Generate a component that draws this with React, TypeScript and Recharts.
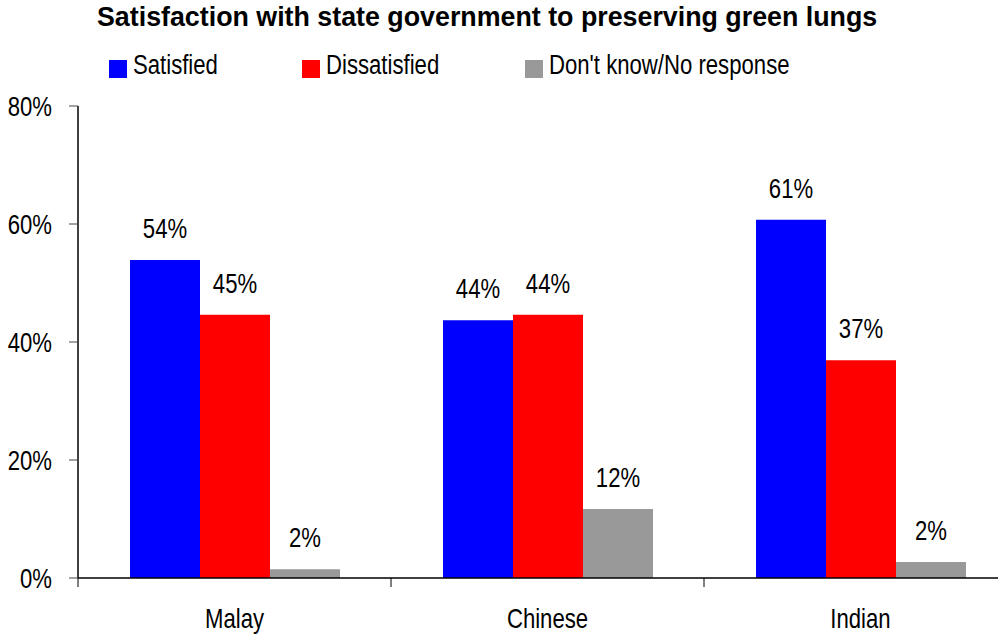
import React from "react";
import { BarChart, Bar, XAxis, YAxis, LabelList, Legend } from "recharts";

const categories = ["Malay", "Chinese", "Indian"];
const satisfied = [53.9, 43.7, 60.7];
const dissatisfied = [44.6, 44.6, 36.9];
const dontKnow = [1.5, 11.7, 2.7];
const satisfiedLabels = ["54%", "44%", "61%"];
const dissatisfiedLabels = ["45%", "44%", "37%"];
const dontKnowLabels = ["2%", "12%", "2%"];
const yTicks = [0, 20, 40, 60, 80];
const seriesNames = ["Satisfied", "Dissatisfied", "Don't know/No response"];
const seriesColors = ["#0000FF", "#FF0000", "#999999"];

const data = categories.map((c, i) => ({
  name: c,
  satisfied: satisfied[i],
  dissatisfied: dissatisfied[i],
  dontKnow: dontKnow[i],
  satisfiedLabel: satisfiedLabels[i],
  dissatisfiedLabel: dissatisfiedLabels[i],
  dontKnowLabel: dontKnowLabels[i],
}));

const FONT = "'Liberation Sans', Arial, sans-serif";
const NARROW = 0.82;
const FS = 27;
const CHART_W = 1030;
const CHART_H = 636;
const MARGIN = { top: 106, right: 13, bottom: 0, left: 0 };
const YAXIS_W = 78;
const XAXIS_H = 58;
const PLOT_W = CHART_W - MARGIN.left - MARGIN.right - YAXIS_W;
const HALF_BAND = PLOT_W / categories.length / 2;

const NarrowText = ({ x, y, anchor, dy, children }: any) => (
  <g transform={`translate(${x},${y}) scale(${NARROW},1)`}>
    <text x={0} y={0} dy={dy || 0} textAnchor={anchor} fontFamily={FONT} fontSize={FS} fill="#000">
      {children}
    </text>
  </g>
);

const XTick = (props: any) => {
  const { x, y, payload, index } = props;
  return (
    <g>
      <line x1={x - HALF_BAND} x2={x - HALF_BAND} y1={y} y2={y + 9} stroke="#000" strokeWidth={1} />
      {index === categories.length - 1 && (
        <line x1={x + HALF_BAND} x2={x + HALF_BAND} y1={y} y2={y + 9} stroke="#000" strokeWidth={1} />
      )}
      <NarrowText x={x} y={y + 50} anchor="middle">
        {payload.value}
      </NarrowText>
    </g>
  );
};

const YTick = (props: any) => {
  const { x, y, payload } = props;
  return (
    <NarrowText x={x} y={y} anchor="end" dy="0.36em">
      {`${payload.value}%`}
    </NarrowText>
  );
};

const BarLabel = (props: any) => {
  const { x, y, width, value } = props;
  return (
    <NarrowText x={Number(x) + Number(width) / 2} y={Number(y) - 22} anchor="middle">
      {value}
    </NarrowText>
  );
};

const legendLefts = [109, 302, 525];

const LegendContent = () => (
  <div style={{ position: "relative", width: 998, height: 0 }}>
    {seriesNames.map((n, i) => (
      <div key={n} style={{ position: "absolute", left: legendLefts[i], top: 0 }}>
        <div
          style={{
            position: "absolute",
            left: 0,
            top: 60,
            width: 18,
            height: 18,
            background: seriesColors[i],
          }}
        />
        <div
          style={{
            position: "absolute",
            left: 24,
            top: 52,
            whiteSpace: "nowrap",
            fontFamily: FONT,
            fontSize: FS,
            lineHeight: `${FS}px`,
            color: "#000",
            transform: `scaleX(${NARROW})`,
            transformOrigin: "0 0",
          }}
        >
          {n}
        </div>
      </div>
    ))}
  </div>
);

export default function App() {
  return (
    <div
      style={{
        position: "absolute",
        left: 0,
        top: 0,
        width: 998,
        height: 636,
        overflow: "hidden",
        background: "#fff",
      }}
    >
      <div
        style={{
          position: "absolute",
          left: 97,
          top: 4,
          whiteSpace: "nowrap",
          fontFamily: FONT,
          fontWeight: "bold",
          fontSize: 26.8,
          lineHeight: "27px",
          color: "#000",
        }}
      >
        Satisfaction with state government to preserving green lungs
      </div>
      <BarChart
        width={CHART_W}
        height={CHART_H}
        data={data}
        margin={MARGIN}
        barGap={0}
        barSize={70}
      >
        <XAxis
          dataKey="name"
          height={XAXIS_H}
          axisLine={{ stroke: "#000", strokeWidth: 1.5 }}
          tickLine={false}
          tickSize={0}
          tickMargin={0}
          tick={<XTick />}
          interval={0}
        />
        <YAxis
          width={YAXIS_W}
          domain={[0, 80]}
          ticks={yTicks}
          interval={0}
          axisLine={{ stroke: "#000", strokeWidth: 1.5 }}
          tickLine={{ stroke: "#444" }}
          tickSize={9}
          tickMargin={17}
          tick={<YTick />}
        />
        <Legend
          content={<LegendContent />}
          wrapperStyle={{ position: "absolute", left: 0, top: 0, width: 998, height: 0, overflow: "visible" }}
        />
        <Bar dataKey="satisfied" name={seriesNames[0]} fill={seriesColors[0]} isAnimationActive={false}>
          <LabelList dataKey="satisfiedLabel" content={<BarLabel />} />
        </Bar>
        <Bar dataKey="dissatisfied" name={seriesNames[1]} fill={seriesColors[1]} isAnimationActive={false}>
          <LabelList dataKey="dissatisfiedLabel" content={<BarLabel />} />
        </Bar>
        <Bar dataKey="dontKnow" name={seriesNames[2]} fill={seriesColors[2]} isAnimationActive={false}>
          <LabelList dataKey="dontKnowLabel" content={<BarLabel />} />
        </Bar>
      </BarChart>
    </div>
  );
}
